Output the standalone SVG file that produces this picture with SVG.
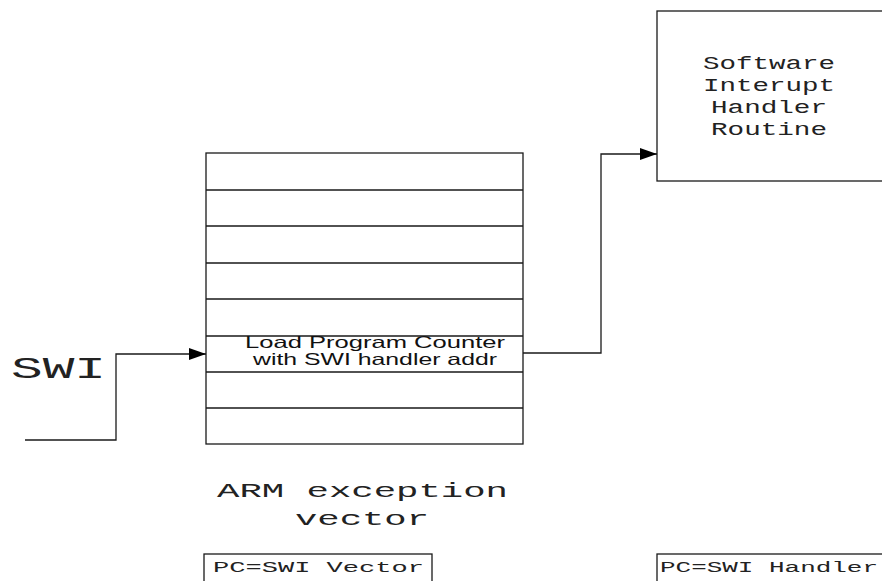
<svg xmlns="http://www.w3.org/2000/svg" width="882" height="581" viewBox="0 0 882 581">
<defs>
<style>
.ln{fill:none;stroke:#1a1a1a;stroke-width:1.3}
.box{fill:#fff;stroke:#1a1a1a;stroke-width:1.3}
.mono{font-family:"Liberation Mono","DejaVu Sans Mono",monospace;fill:#222;font-weight:normal}
.sans{font-family:"Liberation Sans",Arial,sans-serif;fill:#111}
</style>
<marker id="arr" markerWidth="17" markerHeight="12" refX="17" refY="6" orient="auto" markerUnits="userSpaceOnUse">
<path d="M0,0 L17,6 L0,12 Z" fill="#000"/>
</marker>
</defs>
<rect width="882" height="581" fill="#fff"/>

<g id="vector-table">
<rect class="box" x="206" y="153" width="317" height="291"/>
<path class="ln" d="M206,190 H523 M206,226 H523 M206,263 H523 M206,299 H523 M206,336 H523 M206,372 H523 M206,408 H523"/>
<text class="sans" font-size="16.5" x="245" y="348" textLength="260" lengthAdjust="spacingAndGlyphs">Load Program Counter</text>
<text class="sans" font-size="16.5" x="253" y="365" textLength="244" lengthAdjust="spacingAndGlyphs">with SWI handler addr</text>
</g>

<g id="handler-box">
<rect class="box" x="657" y="11" width="240" height="170"/>
<text class="mono" font-size="18" x="703" y="69" textLength="132" lengthAdjust="spacingAndGlyphs">Software</text>
<text class="mono" font-size="18" x="703" y="91" textLength="132" lengthAdjust="spacingAndGlyphs">Interupt</text>
<text class="mono" font-size="18" x="711" y="113" textLength="116" lengthAdjust="spacingAndGlyphs">Handler</text>
<text class="mono" font-size="18" x="711" y="135" textLength="116" lengthAdjust="spacingAndGlyphs">Routine</text>
</g>

<g id="swi-label">
<text class="mono" font-size="30" x="11" y="378" textLength="95" lengthAdjust="spacingAndGlyphs">SWI</text>
</g>

<g id="vector-caption">
<text class="mono" font-size="20" x="217" y="497" textLength="291" lengthAdjust="spacingAndGlyphs">ARM exception</text>
<text class="mono" font-size="20" x="295" y="525" textLength="134" lengthAdjust="spacingAndGlyphs">vector</text>
</g>

<g id="pc-vector">
<rect class="box" x="204" y="554" width="228" height="40"/>
<text class="mono" font-size="14.5" x="213" y="572" textLength="211" lengthAdjust="spacingAndGlyphs">PC=SWI Vector</text>
</g>

<g id="pc-handler">
<rect class="box" x="657" y="554" width="240" height="40"/>
<text class="mono" font-size="14.5" x="660" y="572" textLength="218" lengthAdjust="spacingAndGlyphs">PC=SWI Handler</text>
</g>

<g id="connectors">
<path class="ln" d="M25,440 H116 V354 H206" marker-end="url(#arr)"/>
<path class="ln" d="M523,353 H601 V154 H657" marker-end="url(#arr)"/>
</g>
</svg>
